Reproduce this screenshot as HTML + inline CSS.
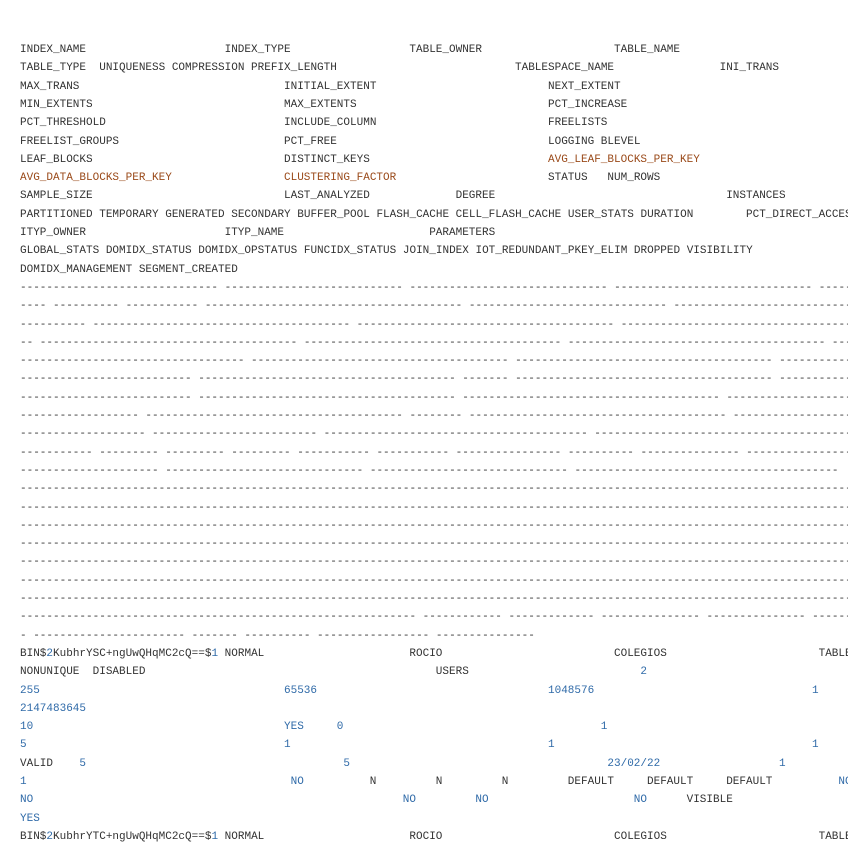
<!DOCTYPE html>
<html><head><meta charset="utf-8"><style>
html,body{margin:0;padding:0;background:#fff;}
body{width:848px;height:848px;overflow:hidden;position:relative;font-family:"Liberation Mono",monospace;font-size:11px;color:#333;}
#w{position:absolute;left:0;top:2px;width:848px;height:846px;overflow:hidden;}
.l{position:absolute;white-space:pre;line-height:18px;}
.b{color:#2f6aa8;}
.o{color:#9a4a1a;}
</style></head><body><div id="w">
<div class="l" style="top:39px;left:20px">INDEX_NAME</div><div class="l" style="top:39px;left:224.6px">INDEX_TYPE</div><div class="l" style="top:39px;left:409.4px">TABLE_OWNER</div><div class="l" style="top:39px;left:614px">TABLE_NAME</div>
<div class="l" style="top:57.3px;left:20px">TABLE_TYPE  UNIQUENESS COMPRESSION PREFIX_LENGTH</div><div class="l" style="top:57.3px;left:515px">TABLESPACE_NAME</div><div class="l" style="top:57.3px;left:719.6px">INI_TRANS</div>
<div class="l" style="top:75.6px;left:20px">MAX_TRANS</div><div class="l" style="top:75.6px;left:284px">INITIAL_EXTENT</div><div class="l" style="top:75.6px;left:548px">NEXT_EXTENT</div>
<div class="l" style="top:93.9px;left:20px">MIN_EXTENTS</div><div class="l" style="top:93.9px;left:284px">MAX_EXTENTS</div><div class="l" style="top:93.9px;left:548px">PCT_INCREASE</div>
<div class="l" style="top:112.2px;left:20px">PCT_THRESHOLD</div><div class="l" style="top:112.2px;left:284px">INCLUDE_COLUMN</div><div class="l" style="top:112.2px;left:548px">FREELISTS</div>
<div class="l" style="top:130.5px;left:20px">FREELIST_GROUPS</div><div class="l" style="top:130.5px;left:284px">PCT_FREE</div><div class="l" style="top:130.5px;left:548px">LOGGING BLEVEL</div>
<div class="l" style="top:148.8px;left:20px">LEAF_BLOCKS</div><div class="l" style="top:148.8px;left:284px">DISTINCT_KEYS</div><div class="l o" style="top:148.8px;left:548px">AVG_LEAF_BLOCKS_PER_KEY</div>
<div class="l o" style="top:167.1px;left:20px">AVG_DATA_BLOCKS_PER_KEY</div><div class="l o" style="top:167.1px;left:284px">CLUSTERING_FACTOR</div><div class="l" style="top:167.1px;left:548px">STATUS   NUM_ROWS</div>
<div class="l" style="top:185.4px;left:20px">SAMPLE_SIZE</div><div class="l" style="top:185.4px;left:284px">LAST_ANALYZED</div><div class="l" style="top:185.4px;left:455.6px">DEGREE</div><div class="l" style="top:185.4px;left:726.2px">INSTANCES</div>
<div class="l" style="top:203.7px;left:20px">PARTITIONED TEMPORARY GENERATED SECONDARY BUFFER_POOL FLASH_CACHE CELL_FLASH_CACHE USER_STATS DURATION</div><div class="l" style="top:203.7px;left:746px">PCT_DIRECT_ACCESS</div>
<div class="l" style="top:222px;left:20px">ITYP_OWNER</div><div class="l" style="top:222px;left:224.6px">ITYP_NAME</div><div class="l" style="top:222px;left:429.2px">PARAMETERS</div>
<div class="l" style="top:240.3px;left:20px">GLOBAL_STATS DOMIDX_STATUS DOMIDX_OPSTATUS FUNCIDX_STATUS JOIN_INDEX IOT_REDUNDANT_PKEY_ELIM DROPPED VISIBILITY</div>
<div class="l" style="top:258.6px;left:20px">DOMIDX_MANAGEMENT SEGMENT_CREATED</div>
<div class="l" style="top:276.9px;left:20px">------------------------------ --------------------------- ------------------------------ ------------------------------ ----------</div>
<div class="l" style="top:295.2px;left:20px">---- ---------- ----------- --------------------------------------- ------------------------------ ------------------------------</div>
<div class="l" style="top:313.5px;left:20px">---------- --------------------------------------- --------------------------------------- ---------------------------------------</div>
<div class="l" style="top:331.8px;left:20px">-- --------------------------------------- --------------------------------------- --------------------------------------- -----</div>
<div class="l" style="top:350.1px;left:20px">---------------------------------- --------------------------------------- --------------------------------------- ---------------</div>
<div class="l" style="top:368.4px;left:20px">-------------------------- --------------------------------------- ------- --------------------------------------- ---------------</div>
<div class="l" style="top:386.7px;left:20px">-------------------------- --------------------------------------- --------------------------------------- --------------------</div>
<div class="l" style="top:405px;left:20px">------------------ --------------------------------------- -------- --------------------------------------- --------------------</div>
<div class="l" style="top:423.3px;left:20px">------------------- ------------------------- ---------------------------------------- ----------------------------------------</div>
<div class="l" style="top:441.6px;left:20px">----------- --------- --------- --------- ----------- ----------- ---------------- ---------- --------------- --------------------</div>
<div class="l" style="top:459.9px;left:20px">--------------------- ------------------------------ ------------------------------ ----------------------------------------</div>
<div class="l" style="top:478.2px;left:20px">------------------------------------------------------------------------------------------------------------------------------------</div>
<div class="l" style="top:496.5px;left:20px">------------------------------------------------------------------------------------------------------------------------------------</div>
<div class="l" style="top:514.8px;left:20px">------------------------------------------------------------------------------------------------------------------------------------</div>
<div class="l" style="top:533.1px;left:20px">------------------------------------------------------------------------------------------------------------------------------------</div>
<div class="l" style="top:551.4px;left:20px">------------------------------------------------------------------------------------------------------------------------------------</div>
<div class="l" style="top:569.7px;left:20px">------------------------------------------------------------------------------------------------------------------------------------</div>
<div class="l" style="top:588px;left:20px">------------------------------------------------------------------------------------------------------------------------------------</div>
<div class="l" style="top:606.3px;left:20px">------------------------------------------------------------ ------------ ------------- --------------- --------------- ----------</div>
<div class="l" style="top:624.6px;left:20px">- ----------------------- ------- ---------- ----------------- ---------------</div>
<div class="l" style="top:642.9px;left:20px">BIN$<span class="b">2</span>KubhrYSC+ngUwQHqMC2cQ==$<span class="b">1</span> NORMAL</div><div class="l" style="top:642.9px;left:409.4px">ROCIO</div><div class="l" style="top:642.9px;left:614px">COLEGIOS</div><div class="l" style="top:642.9px;left:818.6px">TABLE</div>
<div class="l" style="top:661.2px;left:20px">NONUNIQUE  DISABLED</div><div class="l" style="top:661.2px;left:435.8px">USERS</div><div class="l b" style="top:661.2px;left:640.4px">2</div>
<div class="l b" style="top:679.5px;left:20px">255</div><div class="l b" style="top:679.5px;left:284px">65536</div><div class="l b" style="top:679.5px;left:548px">1048576</div><div class="l b" style="top:679.5px;left:812px">1</div>
<div class="l b" style="top:697.8px;left:20px">2147483645</div>
<div class="l b" style="top:716.1px;left:20px">10</div><div class="l b" style="top:716.1px;left:284px">YES</div><div class="l b" style="top:716.1px;left:336.8px">0</div><div class="l b" style="top:716.1px;left:600.8px">1</div>
<div class="l b" style="top:734.4px;left:20px">5</div><div class="l b" style="top:734.4px;left:284px">1</div><div class="l b" style="top:734.4px;left:548px">1</div><div class="l b" style="top:734.4px;left:812px">1</div>
<div class="l" style="top:752.7px;left:20px">VALID</div><div class="l b" style="top:752.7px;left:79.4px">5</div><div class="l b" style="top:752.7px;left:343.4px">5</div><div class="l b" style="top:752.7px;left:607.4px">23/02/22</div><div class="l b" style="top:752.7px;left:779px">1</div>
<div class="l b" style="top:771px;left:20px">1</div><div class="l b" style="top:771px;left:290.6px">NO</div><div class="l" style="top:771px;left:369.8px">N</div><div class="l" style="top:771px;left:435.8px">N</div><div class="l" style="top:771px;left:501.8px">N</div><div class="l" style="top:771px;left:567.8px">DEFAULT</div><div class="l" style="top:771px;left:647px">DEFAULT</div><div class="l" style="top:771px;left:726.2px">DEFAULT</div><div class="l b" style="top:771px;left:838.4px">NO</div>
<div class="l b" style="top:789.3px;left:20px">NO</div><div class="l b" style="top:789.3px;left:402.8px">NO</div><div class="l b" style="top:789.3px;left:475.4px">NO</div><div class="l b" style="top:789.3px;left:633.8px">NO</div><div class="l" style="top:789.3px;left:686.6px">VISIBLE</div>
<div class="l b" style="top:807.6px;left:20px">YES</div>
<div class="l" style="top:825.9px;left:20px">BIN$<span class="b">2</span>KubhrYTC+ngUwQHqMC2cQ==$<span class="b">1</span> NORMAL</div><div class="l" style="top:825.9px;left:409.4px">ROCIO</div><div class="l" style="top:825.9px;left:614px">COLEGIOS</div><div class="l" style="top:825.9px;left:818.6px">TABLE</div>
</div></body></html>
